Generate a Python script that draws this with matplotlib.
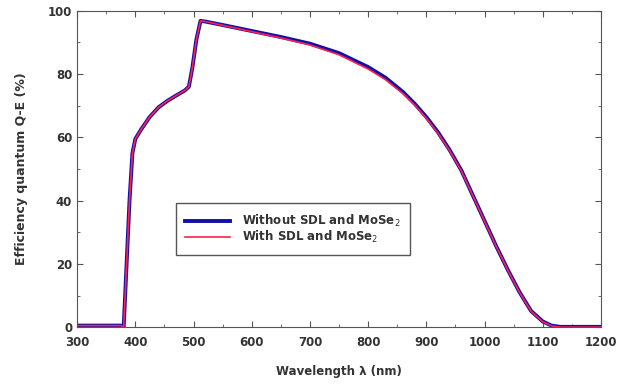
import numpy as np
import matplotlib.pyplot as plt
from matplotlib.ticker import MultipleLocator

# Datos (longitud de onda en nm, QE en %)
wavelength = [300, 340, 375, 380, 385, 390, 395, 400, 410, 425, 440, 455, 470,
              485, 492, 498, 505, 512, 520, 550, 600, 650, 700, 750, 800, 830,
              860, 880, 900, 920, 940, 960, 980, 1000, 1020, 1040, 1060, 1080,
              1100, 1115, 1130, 1150, 1200]
qe_without = [0.5, 0.5, 0.5, 0.0, 20, 40, 55, 59.5, 62.5, 66.5, 69.5, 71.5, 73.2,
              74.8, 76, 82, 91, 96.8, 96.6, 95.5, 93.6, 91.7, 89.6, 86.6, 82.2, 78.8,
              74.3, 70.6, 66.4, 61.6, 56.0, 49.6, 41.6, 33.6, 25.6, 18.1, 11.1, 5.1,
              1.8, 0.5, 0.1, 0.1, 0.1]
qe_with = [0.5, 0.5, 0.5, 0.0, 20, 40, 55, 59.5, 62.5, 66.5, 69.5, 71.5, 73.2,
           74.8, 76, 82, 91, 96.8, 96.6, 95.4, 93.4, 91.4, 89.2, 86.1, 81.6, 78.2,
           73.8, 70.2, 66.0, 61.3, 55.8, 49.4, 41.5, 33.5, 25.5, 18.0, 11.0, 5.0,
           1.7, 0.4, 0.0, 0.0, 0.0]

fig, ax = plt.subplots(figsize=(6.17, 3.84), dpi=100)
fig.subplots_adjust(left=0.125, right=0.974, top=0.972, bottom=0.148)

ax.plot(wavelength, qe_without, color='#1010a8', lw=2.8,
        label='Without SDL and MoSe$_2$')
ax.plot(wavelength, qe_with, color='#ff2050', lw=1.2,
        label='With SDL and MoSe$_2$')

ax.set_xlim(300, 1200)
ax.set_ylim(0, 100)
ax.xaxis.set_major_locator(MultipleLocator(100))
ax.xaxis.set_minor_locator(MultipleLocator(50))
ax.yaxis.set_major_locator(MultipleLocator(20))
ax.yaxis.set_minor_locator(MultipleLocator(10))
ax.tick_params(which='both', direction='in', top=True, right=True,
               colors='#555555', labelcolor='#333333', labelsize=8.5)
ax.tick_params(which='major', length=4)
ax.tick_params(which='minor', length=2)
ax.tick_params(axis='x', pad=6)
for lab in ax.get_xticklabels() + ax.get_yticklabels():
    lab.set_fontweight('bold')
for s in ax.spines.values():
    s.set_color('#555555')

ax.set_xlabel('Wavelength λ (nm)', fontsize=8.5, fontweight='bold', color='#333333',
              labelpad=12)
ax.set_ylabel('Efficiency quantum Q-E (%)', fontsize=9, fontweight='bold', color='#333333',
              labelpad=14)

leg = ax.legend(loc='center left', bbox_to_anchor=(0.177, 0.31), fancybox=False,
                edgecolor='#555555', framealpha=1,
                prop={'size': 8.5, 'weight': 'bold'}, handlelength=3.8,
                borderpad=0.8, labelspacing=0.05, handletextpad=1.0)
leg.get_frame().set_linewidth(1.0)
for t in leg.get_texts():
    t.set_color('#333333')

plt.savefig('out.png')
